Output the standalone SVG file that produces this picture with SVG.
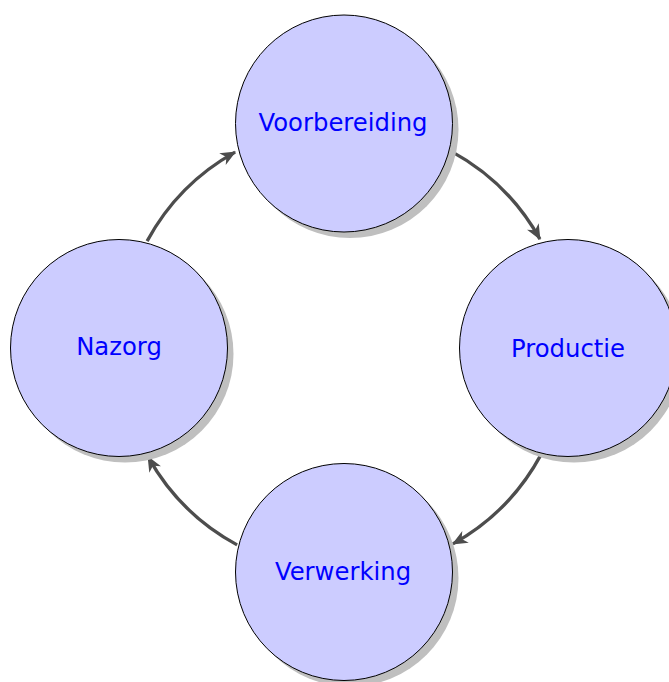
<svg xmlns="http://www.w3.org/2000/svg" width="669" height="682" viewBox="0 0 669 682">
<style>
.shadow{fill:#bfbfbf;stroke:none}
.node{fill:#ccccff;stroke:#000;stroke-width:1}
.label{font-family:"DejaVu Sans",sans-serif;font-size:24.3px;fill:#0000ff;text-anchor:middle}
.edge{fill:none;stroke:#4d4d4d;stroke-width:3.3}
</style>
<defs>
<marker id="arr" markerUnits="userSpaceOnUse" markerWidth="20" markerHeight="20" viewBox="-16 -8 18 16" refX="0" refY="0" orient="auto">
<path d="M1,0 L-13,-6 L-9,0 L-13,6 Z" fill="#4d4d4d"/>
</marker>
</defs>
<rect width="669" height="682" fill="#fff"/>
<g id="connectors">
<path class="edge" d="M450.9,151.1 A224,224 0 0 1 539.9,239.1" marker-end="url(#arr)"/>
<path class="edge" d="M540.9,454.9 A224,224 0 0 1 452.9,543.9" marker-end="url(#arr)"/>
<path class="edge" d="M237.1,544.9 A224,224 0 0 1 148.1,456.9" marker-end="url(#arr)"/>
<path class="edge" d="M147.1,241.1 A224,224 0 0 1 235.1,152.1" marker-end="url(#arr)"/>
</g>
<g id="voorbereiding">
<circle class="shadow" cx="350" cy="129.5" r="108.5"/>
<circle class="node" cx="344" cy="123.5" r="108.5"/>
<text class="label" x="343" y="131">Voorbereiding</text>
</g>
<g id="productie">
<circle class="shadow" cx="574" cy="354" r="108.5"/>
<circle class="node" cx="568" cy="348" r="108.5"/>
<text class="label" x="568" y="357">Productie</text>
</g>
<g id="verwerking">
<circle class="shadow" cx="350" cy="578" r="108.5"/>
<circle class="node" cx="344" cy="572" r="108.5"/>
<text class="label" x="343" y="580">Verwerking</text>
</g>
<g id="nazorg">
<circle class="shadow" cx="125" cy="354" r="108.5"/>
<circle class="node" cx="119" cy="348" r="108.5"/>
<text class="label" x="119" y="355">Nazorg</text>
</g>
</svg>
